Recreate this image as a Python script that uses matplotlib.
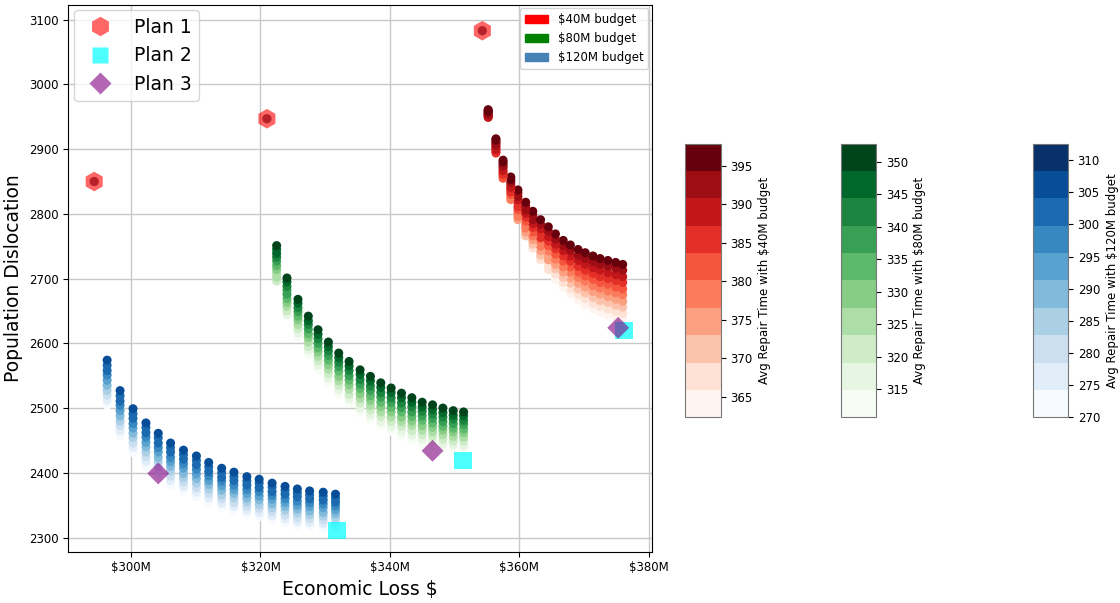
import numpy as np
import matplotlib.pyplot as plt
from matplotlib.patches import Patch
from matplotlib.lines import Line2D
from matplotlib.ticker import FuncFormatter, MultipleLocator


# economic loss in $M, one x per column of solutions
red_x = [355.2, 356.4, 357.5, 358.7, 359.8, 361.0, 362.1, 363.3, 364.5, 365.6,
         366.8, 367.9, 369.1, 370.2, 371.4, 372.5, 373.7, 374.9, 376.0]
green_x = [322.5, 324.1, 325.8, 327.4, 328.9, 330.5, 332.1, 333.7, 335.4, 337.0,
           338.6, 340.2, 341.8, 343.4, 345.0, 346.6, 348.2, 349.8, 351.4]
blue_x = [296.3, 298.3, 300.3, 302.3, 304.2, 306.1, 308.1, 310.1, 312.0, 314.0,
          315.9, 317.9, 319.8, 321.8, 323.8, 325.7, 327.6, 329.7, 331.6]

# population dislocation, 10 solutions per column (top to bottom)
red_y = [
    [2961, 2960, 2958, 2957, 2956, 2954, 2953, 2952, 2950, 2949],
    [2916, 2914, 2911, 2909, 2906, 2904, 2901, 2899, 2896, 2894],
    [2883, 2880, 2877, 2874, 2871, 2867, 2864, 2861, 2858, 2855],
    [2857, 2853, 2849, 2845, 2841, 2838, 2834, 2830, 2826, 2822],
    [2837, 2832, 2827, 2822, 2817, 2811, 2806, 2801, 2796, 2791],
    [2818, 2812, 2806, 2801, 2795, 2789, 2783, 2778, 2772, 2766],
    [2804, 2798, 2791, 2785, 2779, 2772, 2766, 2760, 2753, 2747],
    [2791, 2784, 2777, 2770, 2763, 2757, 2750, 2743, 2736, 2729],
    [2780, 2773, 2765, 2758, 2751, 2743, 2736, 2729, 2721, 2714],
    [2769, 2761, 2753, 2746, 2738, 2730, 2722, 2715, 2707, 2699],
    [2759, 2751, 2743, 2735, 2727, 2718, 2710, 2702, 2694, 2686],
    [2752, 2744, 2735, 2727, 2718, 2710, 2701, 2693, 2684, 2676],
    [2745, 2736, 2728, 2719, 2710, 2702, 2693, 2684, 2676, 2667],
    [2740, 2731, 2722, 2713, 2704, 2696, 2687, 2678, 2669, 2660],
    [2735, 2726, 2717, 2708, 2699, 2689, 2680, 2671, 2662, 2653],
    [2731, 2722, 2713, 2703, 2694, 2685, 2676, 2666, 2657, 2648],
    [2728, 2719, 2709, 2700, 2691, 2681, 2672, 2663, 2653, 2644],
    [2725, 2716, 2706, 2697, 2687, 2678, 2668, 2659, 2649, 2640],
    [2722, 2713, 2703, 2694, 2684, 2675, 2665, 2656, 2646, 2637],
]
green_y = [
    [2751, 2745, 2739, 2733, 2727, 2720, 2714, 2708, 2702, 2696],
    [2701, 2695, 2688, 2682, 2676, 2669, 2663, 2657, 2650, 2644],
    [2668, 2662, 2655, 2649, 2642, 2636, 2629, 2623, 2616, 2610],
    [2642, 2635, 2629, 2622, 2615, 2609, 2602, 2595, 2589, 2582],
    [2621, 2614, 2607, 2600, 2593, 2587, 2580, 2573, 2566, 2559],
    [2602, 2595, 2588, 2581, 2574, 2567, 2560, 2553, 2546, 2539],
    [2585, 2578, 2571, 2564, 2557, 2549, 2542, 2535, 2528, 2521],
    [2572, 2565, 2558, 2550, 2543, 2536, 2529, 2521, 2514, 2507],
    [2559, 2552, 2544, 2537, 2530, 2522, 2515, 2508, 2500, 2493],
    [2549, 2542, 2534, 2527, 2519, 2512, 2504, 2497, 2489, 2482],
    [2539, 2532, 2524, 2517, 2509, 2502, 2494, 2487, 2479, 2472],
    [2531, 2524, 2516, 2509, 2501, 2494, 2486, 2479, 2471, 2464],
    [2523, 2516, 2508, 2501, 2494, 2486, 2479, 2472, 2464, 2457],
    [2516, 2509, 2502, 2494, 2487, 2480, 2473, 2465, 2458, 2451],
    [2509, 2502, 2495, 2488, 2481, 2473, 2466, 2459, 2452, 2445],
    [2505, 2498, 2491, 2484, 2477, 2470, 2463, 2456, 2449, 2442],
    [2500, 2493, 2486, 2479, 2472, 2466, 2459, 2452, 2445, 2438],
    [2496, 2489, 2483, 2476, 2469, 2463, 2456, 2449, 2443, 2436],
    [2494, 2488, 2481, 2475, 2468, 2462, 2455, 2449, 2442, 2436],
]
blue_y = [
    [2574, 2566, 2558, 2551, 2543, 2535, 2527, 2520, 2512, 2504],
    [2527, 2519, 2511, 2504, 2496, 2488, 2480, 2473, 2465, 2457],
    [2499, 2491, 2484, 2476, 2469, 2461, 2454, 2446, 2439, 2431],
    [2477, 2470, 2462, 2455, 2447, 2440, 2432, 2425, 2417, 2410],
    [2461, 2454, 2446, 2439, 2432, 2424, 2417, 2410, 2402, 2395],
    [2446, 2439, 2432, 2424, 2417, 2410, 2403, 2395, 2388, 2381],
    [2435, 2428, 2421, 2414, 2407, 2399, 2392, 2385, 2378, 2371],
    [2426, 2419, 2412, 2405, 2398, 2391, 2384, 2377, 2370, 2363],
    [2416, 2409, 2402, 2395, 2388, 2382, 2375, 2368, 2361, 2354],
    [2407, 2400, 2393, 2387, 2380, 2373, 2366, 2360, 2353, 2346],
    [2401, 2394, 2388, 2381, 2374, 2368, 2361, 2354, 2348, 2341],
    [2394, 2387, 2381, 2374, 2368, 2361, 2355, 2348, 2342, 2335],
    [2390, 2384, 2377, 2371, 2364, 2358, 2351, 2345, 2338, 2332],
    [2384, 2378, 2371, 2365, 2359, 2352, 2346, 2340, 2333, 2327],
    [2379, 2373, 2367, 2360, 2354, 2348, 2342, 2335, 2329, 2323],
    [2375, 2369, 2363, 2356, 2350, 2344, 2338, 2331, 2325, 2319],
    [2372, 2366, 2360, 2354, 2348, 2341, 2335, 2329, 2323, 2317],
    [2370, 2364, 2358, 2352, 2346, 2339, 2333, 2327, 2321, 2315],
    [2367, 2361, 2355, 2349, 2343, 2337, 2331, 2325, 2319, 2313],
]

# avg repair time per solution
red_rt_full = [397, 393, 389, 386, 382, 378, 374, 371, 367, 363]
red_rt = [
    [397, 396, 395, 394, 393, 392, 391, 390, 389, 388],
    [397, 396, 394, 393, 392, 390, 389, 388, 386, 385],
    [397, 395, 393, 392, 390, 388, 386, 385, 383, 381],
    [397, 395, 393, 390, 388, 386, 384, 381, 379, 377],
    [397, 394, 392, 389, 387, 384, 382, 379, 377, 374],
    [397, 394, 391, 388, 385, 383, 380, 377, 374, 371],
    [397, 394, 391, 388, 385, 381, 378, 375, 372, 369],
    [397, 394, 390, 387, 384, 380, 377, 374, 370, 367],
    [397, 394, 390, 387, 383, 380, 376, 373, 369, 366],
    [397, 393, 390, 386, 383, 379, 376, 372, 369, 365],
    [397, 393, 390, 386, 382, 379, 375, 371, 368, 364],
] + [red_rt_full] * 8
green_rt_full = [352, 348, 343, 339, 334, 330, 325, 321, 316, 312]
green_rt = [
    [352, 348, 345, 341, 338, 334, 331, 327, 324, 320],
    [352, 348, 344, 340, 336, 332, 328, 324, 320, 316],
] + [green_rt_full] * 17
blue_rt_full = [308, 304, 300, 296, 292, 288, 284, 280, 276, 272]
blue_rt = [blue_rt_full] * 19

# the three plans (one per budget: blue, green, red)
plan1_x = [294.3, 321.0, 354.3]
plan1_y = [2850, 2947, 3083]
plan2_x = [331.8, 351.3, 376.2]
plan2_y = [2311, 2419, 2620]
plan3_x = [304.2, 346.6, 375.3]
plan3_y = [2399, 2434, 2624]

budget_labels = ['\\$40M budget', '\\$80M budget', '\\$120M budget']
budget_colors = ['red', 'green', 'steelblue']


fig = plt.figure(figsize=(11.2, 6.03), dpi=100)
ax = fig.add_axes([0.061, 0.085, 0.521, 0.907])

sets = [
    (red_x, red_y, red_rt, 'Reds', 362.3, 397.9, np.arange(365, 396, 5)),
    (green_x, green_y, green_rt, 'Greens', 310.7, 352.8, np.arange(315, 351, 5)),
    (blue_x, blue_y, blue_rt, 'Blues', 270.0, 312.6, np.arange(270, 311, 5)),
]
cbar_left = [0.612, 0.7506, 0.922]

for i, (cx, cy, crt, cmap_name, lo, hi, ticks) in enumerate(sets):
    xs = np.repeat(cx, 10)
    ys = np.ravel(cy)
    cs = np.ravel(crt)
    order = np.argsort(ys)  # lower (lighter) points first, darker on top
    cmap = plt.get_cmap(cmap_name, 10)
    sc = ax.scatter(xs[order], ys[order], c=cs[order], cmap=cmap, vmin=lo, vmax=hi,
                    s=42, edgecolors='none', zorder=3)
    cax = fig.add_axes([cbar_left[i], 0.308, 0.0315, 0.454])
    cb = fig.colorbar(sc, cax=cax, ticks=ticks)
    cb.outline.set_edgecolor('#777777')
    cb.ax.tick_params(labelsize=8.5)
    cb.set_label('Avg Repair Time with ' + budget_labels[i], fontsize=8.5)

# plans
ax.scatter(plan1_x, plan1_y, marker='h', s=200, color='red', alpha=0.6,
           edgecolors='none', zorder=4)
ax.scatter(plan1_x, plan1_y, marker='o', s=45, color='#a5101c', alpha=0.8,
           edgecolors='none', zorder=5)
ax.scatter(plan2_x, plan2_y, marker='s', s=160, color='cyan', alpha=0.7,
           edgecolors='none', zorder=4)
ax.scatter(plan3_x, plan3_y, marker='D', s=125, color='purple', alpha=0.6,
           edgecolors='none', zorder=4)

ax.set_xlim(290.3, 380.5)
ax.set_ylim(2278, 3123)
ax.xaxis.set_major_locator(MultipleLocator(20))
ax.yaxis.set_major_locator(MultipleLocator(100))
ax.xaxis.set_major_formatter(FuncFormatter(lambda v, p: '\\$%dM' % v))
ax.tick_params(labelsize=8.5)
ax.grid(True, color='#c8c8c8', linewidth=1)
ax.set_axisbelow(True)
ax.set_xlabel('Economic Loss \\$', fontsize=13.5)
ax.set_ylabel('Population Dislocation', fontsize=13.5)

plan_handles = [
    Line2D([], [], ls='none', marker='h', ms=14, color='#ff6666', mec='none'),
    Line2D([], [], ls='none', marker='s', ms=12, color='#4dffff', mec='none'),
    Line2D([], [], ls='none', marker='D', ms=11, color='#b366b3', mec='none'),
]
leg1 = ax.legend(plan_handles, ['Plan 1', 'Plan 2', 'Plan 3'], loc='upper left',
                 fontsize=13.5, handletextpad=0.8, borderaxespad=0.3)
ax.add_artist(leg1)

budget_handles = [Patch(color=c) for c in budget_colors]
ax.legend(budget_handles, budget_labels, loc='upper right', fontsize=8.5,
          borderaxespad=0.3)

fig.savefig('out.png', dpi=100)
